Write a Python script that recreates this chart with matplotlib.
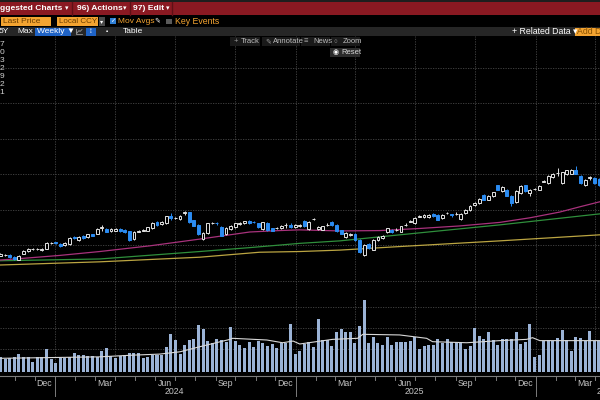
import numpy as np
import pandas as pd
import matplotlib
matplotlib.use("Agg")
from matplotlib import pyplot as plt
from matplotlib.patches import Rectangle
import matplotlib.dates as mdates

# weekly candles, one per week starting here
first_week = "2023-10-10"

opens = [47.1, 47.3, 47.4, 46.8, 46.0, 47.7, 48.4, 48.9, 49.0, 48.7,
         49.1, 50.6, 50.9, 50.4, 50.0, 50.4, 52.4, 51.6, 52.8, 52.4,
         53.1, 53.3, 55.0, 54.7, 54.0, 54.2, 54.7, 54.5, 54.0, 51.8,
         53.9, 54.2, 54.2, 54.9, 56.5, 56.0, 56.3, 58.2, 57.7, 57.5,
         59.2, 59.3, 57.1, 55.8, 51.8, 53.5, 56.2, 56.3, 55.2, 53.1,
         54.7, 55.2, 56.1, 56.2, 57.0, 56.7, 56.2, 54.6, 56.3, 54.8,
         54.8, 54.9, 55.7, 55.9, 55.2, 55.4, 57.0, 54.6, 57.4, 54.6,
         54.5, 55.8, 56.5, 55.9, 54.3, 52.4, 53.0, 53.3, 51.5, 47.4,
         50.4, 48.8, 51.5, 52.1, 53.7, 54.5, 54.4, 53.9, 55.8, 56.7,
         56.2, 58.1, 58.0, 58.0, 59.0, 58.6, 57.8, 59.1, 58.8, 58.9,
         57.5, 59.2, 59.9, 61.3, 62.0, 64.3, 62.9, 63.9, 66.9, 65.3,
         65.7, 63.9, 62.2, 64.8, 66.9, 64.8, 65.8, 65.7, 68.0, 67.6,
         69.3, 70.3, 67.6, 70.0, 70.2, 71.4, 69.7, 66.9, 69.1, 69.0,
         68.8]
closes = [47.5, 47.4, 46.8, 46.2, 47.1, 48.4, 49.0, 49.0, 49.1, 49.1,
          50.7, 50.7, 50.7, 49.8, 50.7, 52.1, 52.1, 52.4, 52.0, 53.1,
          52.8, 54.7, 55.1, 53.9, 54.7, 54.7, 54.1, 53.7, 51.6, 53.8,
          54.0, 54.3, 55.1, 56.3, 55.8, 56.5, 58.2, 57.7, 57.8, 58.4,
          59.3, 56.5, 55.6, 53.1, 53.5, 56.2, 56.3, 56.2, 52.8, 54.9,
          55.6, 56.2, 56.2, 56.8, 56.3, 56.6, 55.2, 56.5, 54.4, 54.2,
          54.9, 55.6, 55.8, 55.2, 55.8, 55.9, 55.4, 56.7, 57.5, 55.3,
          55.4, 55.9, 55.8, 54.0, 53.3, 53.5, 53.1, 51.6, 48.1, 50.2,
          49.3, 51.6, 52.4, 52.8, 54.8, 53.7, 54.5, 55.4, 55.9, 56.8,
          57.8, 58.2, 58.6, 58.6, 58.2, 57.3, 58.6, 59.2, 58.7, 59.0,
          59.0, 60.1, 61.2, 62.0, 63.1, 62.9, 63.9, 65.0, 65.7, 66.5,
          64.0, 62.0, 65.3, 66.7, 65.3, 65.7, 65.9, 66.7, 68.1, 69.7,
          70.2, 70.4, 70.6, 71.2, 71.4, 70.2, 67.6, 68.4, 69.2, 67.6,
          67.0]
highs = [47.8, 47.7, 47.6, 47.0, 47.3, 48.6, 49.2, 49.2, 49.3, 49.3,
         51.0, 51.0, 51.1, 50.6, 50.9, 52.3, 52.7, 52.6, 53.0, 53.3,
         53.3, 54.9, 55.9, 55.0, 54.9, 54.9, 54.9, 54.7, 54.2, 54.0,
         54.3, 54.6, 55.3, 56.5, 56.8, 56.8, 58.4, 59.1, 58.1, 58.6,
         59.8, 59.5, 57.3, 56.0, 53.7, 56.4, 56.6, 56.5, 55.4, 55.1,
         55.8, 56.4, 56.5, 57.0, 57.2, 56.9, 56.4, 56.7, 56.5, 55.0,
         55.1, 55.8, 56.3, 56.2, 56.0, 56.1, 57.2, 56.9, 57.8, 55.5,
         55.6, 56.2, 56.8, 56.1, 54.5, 53.7, 53.4, 53.5, 51.7, 50.4,
         50.6, 51.8, 52.6, 53.0, 55.0, 54.7, 54.8, 55.6, 56.2, 57.1,
         58.0, 58.5, 58.8, 58.8, 59.2, 58.8, 58.8, 59.5, 59.0, 59.3,
         59.2, 60.3, 61.4, 62.2, 63.3, 64.5, 64.1, 65.2, 67.1, 66.7,
         65.9, 64.1, 65.5, 66.9, 67.1, 65.9, 66.2, 66.9, 68.4, 69.9,
         70.4, 71.8, 70.8, 71.4, 71.6, 72.4, 69.9, 68.6, 69.5, 69.2,
         69.0]
lows = [46.9, 47.1, 46.6, 46.0, 45.8, 47.5, 48.2, 48.7, 48.8, 48.5,
        49.0, 50.4, 50.5, 49.6, 49.8, 50.2, 51.9, 51.4, 51.8, 52.2,
        52.6, 53.1, 54.0, 53.7, 53.8, 54.0, 53.9, 53.5, 51.4, 51.6,
        53.7, 54.0, 54.0, 54.7, 55.6, 55.8, 56.1, 57.3, 57.5, 57.3,
        58.6, 56.3, 55.4, 52.9, 51.6, 53.3, 56.0, 55.9, 52.6, 52.9,
        54.5, 55.0, 55.9, 56.0, 56.1, 56.4, 55.0, 54.4, 54.2, 54.0,
        54.6, 54.7, 54.9, 55.0, 55.0, 55.2, 55.2, 54.4, 57.2, 54.4,
        54.3, 55.6, 55.6, 53.8, 53.1, 52.2, 52.8, 51.4, 47.9, 47.1,
        49.1, 48.6, 51.3, 51.9, 53.5, 53.5, 54.2, 53.7, 55.6, 56.5,
        56.0, 57.9, 57.8, 57.8, 58.0, 57.1, 57.6, 58.9, 58.0, 58.7,
        57.3, 59.0, 59.7, 61.1, 61.8, 62.7, 62.7, 63.7, 65.5, 65.1,
        63.8, 61.0, 62.0, 64.6, 65.1, 63.9, 65.6, 65.5, 67.8, 67.4,
        69.1, 69.5, 67.4, 69.8, 70.0, 70.0, 67.4, 66.7, 68.5, 67.4,
        66.8]
volumes = [6.0, 5.1, 5.6, 6.0, 7.5, 6.3, 6.3, 4.0, 6.3, 6.3,
           10.0, 5.2, 3.5, 5.6, 5.9, 6.3, 8.3, 7.0, 7.0, 6.7,
           6.7, 6.3, 9.2, 10.3, 6.7, 5.6, 6.7, 7.0, 7.9, 7.9,
           7.9, 5.9, 6.3, 7.0, 7.0, 7.0, 11.1, 17.1, 14.3, 7.6,
           12.1, 14.3, 14.6, 21.4, 19.5, 13.8, 13.0, 14.6, 14.3, 13.5,
           20.5, 14.0, 11.9, 10.3, 13.5, 11.1, 13.8, 12.7, 11.4, 12.2,
           10.3, 12.7, 13.0, 21.9, 7.6, 9.2, 12.4, 13.3, 10.8, 24.1,
           14.1, 14.1, 11.6, 18.3, 19.5, 17.9, 17.9, 13.0, 21.0, 33.3,
           12.7, 15.6, 13.0, 11.7, 15.9, 11.7, 13.5, 13.3, 13.5, 14.0,
           15.9, 9.8, 11.4, 11.7, 11.7, 14.8, 12.7, 14.6, 13.3, 13.3,
           13.3, 9.8, 11.4, 19.8, 16.2, 14.6, 17.9, 14.3, 11.9, 14.9,
           14.9, 14.6, 17.9, 12.2, 13.3, 21.7, 6.3, 7.1, 13.8, 14.3,
           13.8, 15.1, 19.0, 14.3, 9.0, 15.6, 15.1, 13.8, 18.6, 14.0,
           14.0]

# moving averages
ma_fast_dates = ["2023-10-09", "2023-11-08", "2024-01-08", "2024-03-09", "2024-05-24",
                 "2024-08-08", "2024-10-23", "2024-12-07", "2025-01-07", "2025-03-09",
                 "2025-05-09", "2025-07-09", "2025-09-07", "2025-11-07", "2025-12-23",
                 "2026-02-06", "2026-03-09", "2026-04-08"]
ma_fast = [45.9, 46.3, 47.2, 48.3, 49.9, 51.8, 53.8, 54.2, 54.4, 54.1,
           54.2, 54.8, 55.5, 56.5, 57.8, 59.4, 60.9, 62.3]
ma_mid_dates = ["2023-10-09", "2024-03-09", "2024-08-08", "2024-10-23", "2025-01-07",
                "2025-03-09", "2025-06-08", "2025-11-07", "2026-04-08"]
ma_mid = [45.7, 46.2, 48.3, 49.4, 50.6, 51.3, 53.0, 55.8, 58.9]
ma_slow_dates = ["2023-10-09", "2024-03-09", "2024-08-08", "2024-11-07", "2025-01-07",
                 "2025-03-09", "2025-06-08", "2025-11-07", "2026-04-08"]
ma_slow = [44.5, 45.4, 46.7, 48.1, 48.3, 48.7, 49.7, 51.3, 53.0]

vol_ma_dates = ["2023-10-09", "2024-03-09", "2024-04-28", "2024-06-08", "2024-07-09",
                "2024-08-08", "2024-09-23", "2024-09-27", "2024-11-18", "2024-12-12",
                "2024-12-28", "2025-01-07", "2025-02-26", "2025-04-05", "2025-04-13",
                "2025-06-08", "2025-07-19", "2025-07-28", "2025-09-18", "2025-11-07",
                "2025-12-18", "2025-12-27", "2026-01-07", "2026-02-17", "2026-04-08"]
vol_ma = [5.6, 6.3, 7.1, 7.6, 8.7, 11.1, 14.6, 15.1, 14.3, 13.0,
          13.8, 12.4, 14.6, 15.1, 17.0, 16.7, 15.1, 13.5, 13.0, 14.0,
          14.6, 15.4, 14.0, 14.0, 14.0]

month_labels = ["Dec", "Mar", "Jun", "Sep", "Dec", "Mar", "Jun", "Sep", "Dec", "Mar"]
month_label_dates = ["2023-12-16", "2024-03-16", "2024-06-16", "2024-09-16", "2024-12-16",
                     "2025-03-16", "2025-06-16", "2025-09-16", "2025-12-16", "2026-03-16"]
year_labels = ["2024", "2025", "2026"]
year_label_dates = ["2024-07-01", "2025-07-01", "2026-04-03"]
legend_digits = ["7", "0", "3", "2", "9", "2", "1"]

UP_COL = "#e2e2e2"
DOWN_COL = "#2b8cf2"
GRID_COL = "#474747"
ORANGE = "#f4a431"
FONT = "Liberation Sans"

fig = plt.figure(figsize=(6, 4), dpi=100, facecolor="black")

x_left = mdates.date2num(pd.Timestamp("2023-10-09 07:00"))
x_right = mdates.date2num(pd.Timestamp("2026-04-08 14:00"))
quarters = mdates.date2num(pd.date_range("2024-01-01", "2026-04-01", freq="QS"))

ax_p = fig.add_axes([0, 1 - 292 / 400, 1, 256 / 400])
ax_v = fig.add_axes([0, 1 - 372 / 400, 1, 80 / 400])
for ax in (ax_p, ax_v):
    ax.set_facecolor("black")
    ax.set_xlim(x_left, x_right)
    for s in ax.spines.values():
        s.set_visible(False)
    ax.set_xticks(quarters)
    ax.tick_params(length=0, labelbottom=False, labelleft=False)
    ax.grid(True, color=GRID_COL, linestyle=(0, (1.5, 1.5)), linewidth=0.6)
    ax.set_axisbelow(True)

ax_p.set_ylim(36.9, 109.0)
ax_p.set_yticks([40, 50, 60, 70, 80, 90, 100])
ax_v.set_ylim(-0.9, 37.1)
ax_v.set_yticks([10, 20, 30])

# candles
x = mdates.date2num(pd.date_range(first_week, periods=len(closes), freq="7D"))
o = np.array(opens)
c = np.array(closes)
h = np.array(highs)
l = np.array(lows)
up = c >= o
ax_p.vlines(x[up], l[up], h[up], color=UP_COL, lw=0.7, zorder=3)
ax_p.vlines(x[~up], l[~up], h[~up], color=DOWN_COL, lw=0.7, zorder=3)
bot = np.minimum(o, c)
hgt = np.abs(c - o)
ax_p.bar(x[up], hgt[up], bottom=bot[up], width=4.4, facecolor="black",
         edgecolor=UP_COL, linewidth=0.7, zorder=4)
ax_p.bar(x[~up], hgt[~up], bottom=bot[~up], width=4.4, facecolor=DOWN_COL,
         edgecolor=DOWN_COL, linewidth=0.7, zorder=4)

# moving averages
ax_p.plot(mdates.date2num(pd.to_datetime(ma_slow_dates)), ma_slow, color="#bba542", lw=0.9, zorder=2)
ax_p.plot(mdates.date2num(pd.to_datetime(ma_mid_dates)), ma_mid, color="#2f8f3c", lw=0.9, zorder=2)
ax_p.plot(mdates.date2num(pd.to_datetime(ma_fast_dates)), ma_fast, color="#a8327c", lw=0.9, zorder=2)

# volume
ax_v.bar(x, np.array(volumes) + 0.9, bottom=-0.9, width=4.6, color="#9bb3d6", zorder=2)
ax_v.plot(mdates.date2num(pd.to_datetime(vol_ma_dates)), vol_ma, color="#d8d8d8", lw=0.8, zorder=3)

# bottom date axis
xt = ax_v.get_xaxis_transform()
ax_v.plot([x_left, x_right], [-0.056, -0.056], transform=xt, color="#7c7c7c", lw=0.8, clip_on=False)
for d in mdates.date2num(pd.date_range("2023-11-01", "2026-04-01", freq="MS")):
    ax_v.plot([d, d], [-0.056, -0.095], transform=xt, color="#7c7c7c", lw=0.7, clip_on=False)
for d in mdates.date2num(pd.to_datetime(["2024-01-01", "2025-01-01", "2026-01-01"])):
    ax_v.plot([d, d], [-0.056, -0.30], transform=xt, color="#7c7c7c", lw=0.7, clip_on=False)
for lab, d in zip(month_labels, month_label_dates):
    ax_v.text(mdates.date2num(pd.Timestamp(d)), -0.14, lab, transform=xt, ha="center", va="center",
              color="#c4c4c4", fontsize=6.3, family=FONT)
for i, (lab, d) in enumerate(zip(year_labels, year_label_dates)):
    ax_v.text(mdates.date2num(pd.Timestamp(d)), -0.24, lab, transform=xt,
              ha="left" if i == 2 else "center", va="center",
              color="#c4c4c4", fontsize=6.3, family=FONT)

# terminal chrome drawn in pixel coordinates
ui = fig.add_axes([0, 0, 1, 1], facecolor="none", zorder=10)
ui.set_xlim(0, 600)
ui.set_ylim(400, 0)
ui.axis("off")


def box(x0, y0, w, hh, col):
    ui.add_patch(Rectangle((x0, y0), w, hh, facecolor=col, edgecolor="none"))


def txt(x0, y0, s, col="white", size=6.5, weight="normal", ha="left"):
    ui.text(x0, y0, s, color=col, fontsize=size, fontweight=weight, ha=ha, va="center",
            family=[FONT, "DejaVu Sans"])


box(0, 0, 600, 2, "#1e1e1e")
box(0, 2, 600, 12.5, "#8a1922")
for xs in (72, 130, 172):
    ui.plot([xs, xs], [2, 14.5], color="#5e1016", lw=1)
txt(0, 8.5, "ggested Charts", size=6.1, weight="bold")
txt(66.5, 8.5, "\u25be", size=5, ha="center")
txt(77, 8.5, "96) Actions", size=6.1, weight="bold")
txt(124.5, 8.5, "\u25be", size=5, ha="center")
txt(133, 8.5, "97) Edit", size=6.1, weight="bold")
txt(167.5, 8.5, "\u25be", size=5, ha="center")

box(1, 16.5, 50, 9.5, ORANGE)
txt(3, 21.3, "Last Price", col="#6a3d00", size=6.0)
box(57, 16.5, 41, 9.5, ORANGE)
txt(59, 21.3, "Local CCY", col="#6a3d00", size=5.8)
box(99, 16.5, 6, 9.5, "#4a4a4a")
txt(102, 21.3, "\u25be", size=4.5, ha="center")
box(110, 18, 6, 6, "#2f7fd6")
txt(113, 21, "\u2713", size=4.5, ha="center")
txt(118, 21.3, "Mov Avgs", col=ORANGE, size=6.0)
txt(157.5, 21.3, "\u270e", size=5, ha="center")
box(166, 18.5, 5.5, 5.5, "#5a5a5a")
txt(175, 21.3, "Key Events", col=ORANGE, size=6.3)

box(0, 27, 600, 9, "#262626")
txt(-1, 31.5, "5Y", size=6)
txt(17, 31.5, "Max", size=6)
box(35, 27.5, 36, 8, "#1f63c6")
txt(37, 31.5, "Weekly \u25bc", size=6)
ui.plot([76, 76, 82], [29, 34, 34], color="#9a9a9a", lw=0.6)
ui.plot([77, 79, 80, 82], [33, 30.5, 31.5, 29.5], color="#9a9a9a", lw=0.6)
box(86, 27.5, 10, 8, "#1f63c6")
txt(91, 31.5, "\u2195", size=5.5, ha="center")
txt(107, 31.5, "\u25aa", size=4.5, ha="center")
txt(123, 31.5, "Table", size=6)
txt(512, 31.5, "+ Related Data \u25be", size=6.3)
box(575, 27.5, 30, 8, ORANGE)
txt(577, 31.5, "Add Data", col="#8a5200", size=6.3)

# in-chart overlay buttons
for bx, bw in ((230, 30), (262, 38), (301, 29), (331, 29)):
    box(bx, 37, bw, 9, "#1a1a1a")
txt(234, 41.5, "+", col="#9a9a9a", size=5.5)
txt(241, 41.5, "Track", col="#bdbdbd", size=5.5)
txt(265, 41.5, "\u270e", col="#9a9a9a", size=5)
txt(273, 41.5, "Annotate", col="#bdbdbd", size=5.5)
txt(304, 41.5, "\u2261", col="#9a9a9a", size=5.5)
txt(313, 41.5, "News", col="#bdbdbd", size=5.5)
txt(334, 41.5, "\u25cb", col="#9a9a9a", size=4.5)
txt(343, 41.5, "Zoom", col="#bdbdbd", size=5.5)
box(330, 47.5, 30, 9.5, "#2b2b2b")
txt(333, 52.2, "\u25c9", size=5)
txt(341, 52.2, "Reset", col="#d8d8d8", size=5.5)

# cut-off legend column at the left edge
for i, dg in enumerate(legend_digits):
    txt(4.5, 44.3 + i * 8, dg, col="#cfcfcf", size=6, ha="right")

fig.savefig("out.png", dpi=100, facecolor="black")
